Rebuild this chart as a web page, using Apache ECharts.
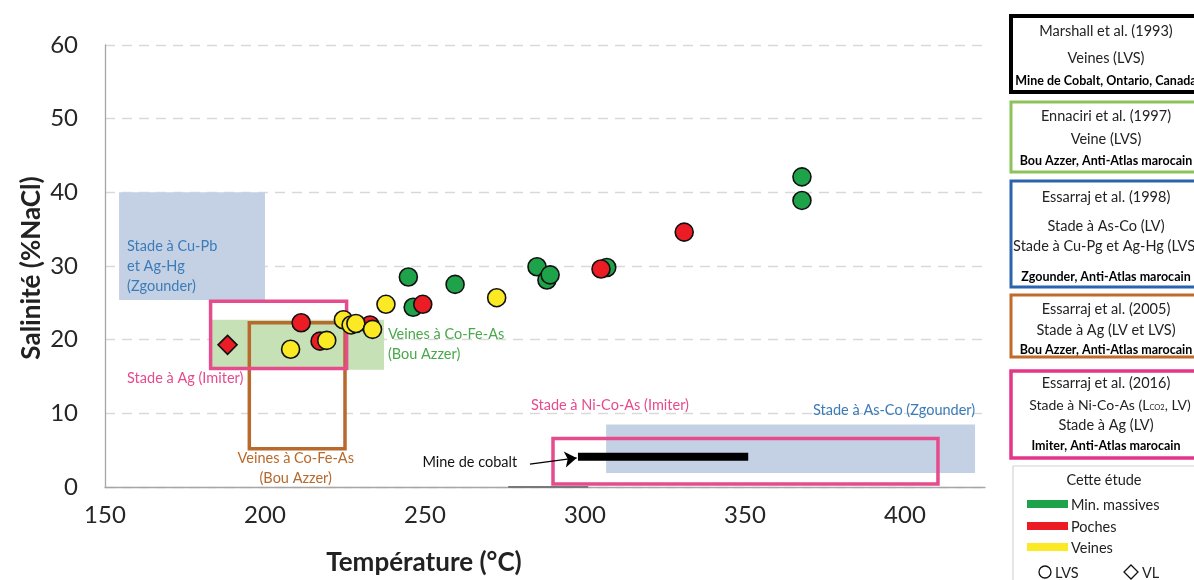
<!DOCTYPE html>
<html><head><meta charset="utf-8">
<script src="https://cdn.jsdelivr.net/npm/echarts@6/dist/echarts.min.js"></script>
<style>html,body{margin:0;padding:0;background:#fff}#c{width:1194px;height:580px}</style>
</head><body><div id="c"></div>
<script>
// ---- data (temperature °C, salinity %NaCl) ----
const massives = [[367.8,42.1],[367.8,38.9],[244.8,28.5],[246.3,24.4],[259.4,27.5],[285,29.9],[288.1,28.1],[289.1,28.8],[306.8,29.8]];
const poches = [[211.3,22.3],[217.2,19.8],[232.8,22.0],[249.3,24.8],[305,29.6],[331,34.6]];
const veines = [[208,18.7],[219.3,19.9],[224.5,22.7],[226.9,22.0],[228.4,22.2],[233.6,21.4],[237.8,24.8],[272.4,25.7]];
const pochesVL = [[188.3,19.3]];

// literature fields: temperature range, salinity range
const regionNames = ['Cu-Pb Ag-Hg Zgounder','Co-Fe-As Bou Azzer (fill)','Ag Imiter','Co-Fe-As Bou Azzer (box)','As-Co Zgounder','Ni-Co-As Imiter'];
const regionT = [[154.4,200],[183.4,237.2],[183,225.5],[195.1,225],[306.6,421.9],[290,410.3]];
const regionS = [[25.4,40],[15.9,22.7],[16.1,25.2],[5.2,22.3],[1.9,8.5],[0.4,6.6]];
const cobaltMineT = [297.8,351];
const cobaltMineS = 4.1;
const arrowFrom = [282.8,3.1];
const arrowTo = [297.4,3.95];
const axisDarkSegment = [276,301];

const annotTexts = ['Stade à Cu-Pb\net Ag-Hg\n(Zgounder)','Stade à Ag (Imiter)','Veines à Co-Fe-As\n(Bou Azzer)','Veines à Co-Fe-As\n(Bou Azzer)','Stade à Ni-Co-As (Imiter)','Stade à As-Co (Zgounder)','Mine de cobalt'];
const annotAt = [[156.9,30],[156.9,14.8],[238.4,19.3],[209.6,2.6],[307.8,11.1],[396.6,10.4],[264,3.3]];

const xMin = 150, xMax = 425, xStep = 50;
const yMin = 0, yMax = 60, yStep = 10;

// ---- styles ----
const FONT = 'Lato, "Open Sans", sans-serif';
const GREEN = '#1fa34a', RED = '#ec1c24', YELLOW = '#fbe924';
const PINK = '#e64b8d', BROWN = '#b8692c';
const regionStyle = [
  {fill:'#c4d1e4', stroke:null, lw:0},
  {fill:'#c6e1b6', stroke:null, lw:0},
  {fill:'none', stroke:PINK, lw:3.5},
  {fill:'none', stroke:BROWN, lw:3.5},
  {fill:'#c4d1e4', stroke:null, lw:0},
  {fill:'none', stroke:PINK, lw:3.5}
];
const regionOrder = [0,1,4,3,2,5];
const annotStyle = [
  {c:'#3b7bb8', a:'left'},{c:PINK, a:'left'},{c:'#4aa84a', a:'left'},{c:BROWN, a:'center'},
  {c:PINK, a:'center'},{c:'#3b7bb8', a:'center'},{c:'#111', a:'center'}
];

const chart = echarts.init(document.getElementById('c'), null, {renderer:'canvas'});

const regionData = regionOrder.map(i => ({value:[regionT[i][0],regionT[i][1],regionS[i][0],regionS[i][1]], name:regionNames[i], idx:i}));

function pt(color, symbol, size, data, name){
  return {type:'scatter', name, data, symbol, symbolSize:size, z:10,
    itemStyle:{color, borderColor:'#111', borderWidth:1.6, opacity:1}};
}

// legend graphics
const G = [];
const LX = 1011, LW = 200;
function box(y, h, color, lw){
  G.push({type:'rect', shape:{x:LX, y, width:LW, height:h}, style:{fill:'#fff', stroke:color, lineWidth:lw}, z:1});
}
function txt(x, y, t, opts){
  opts = opts || {};
  G.push({type:'text', x, y, style:{text:t, fill:opts.c || '#222', font:(opts.b?'bold ':'')+(opts.s||14.5)+'px '+FONT, align:opts.a||'center', verticalAlign:'middle'}, z:2});
}
const CX = 1106;
const BS = 12.5;
box(16, 76, '#000', 4);
txt(CX, 31, 'Marshall et al. (1993)');
txt(CX, 58, 'Veines (LVS)');
txt(CX, 81, 'Mine de Cobalt, Ontario, Canada', {b:true, s:BS, c:'#000'});
box(102, 70, '#8dc15a', 3);
txt(CX, 116, 'Ennaciri et al. (1997)');
txt(CX, 139, 'Veine (LVS)');
txt(CX, 161, 'Bou Azzer, Anti-Atlas marocain', {b:true, s:BS, c:'#000'});
box(181, 106, '#2b63ad', 3);
txt(CX, 197, 'Essarraj et al. (1998)');
txt(CX, 226, 'Stade à As-Co (LV)');
txt(CX, 246, 'Stade à Cu-Pg et Ag-Hg (LVS)');
txt(CX, 277, 'Zgounder, Anti-Atlas marocain', {b:true, s:BS, c:'#000'});
box(295, 62, '#c06a2c', 3);
txt(CX, 309, 'Essarraj et al. (2005)');
txt(CX, 330, 'Stade à Ag (LV et LVS)');
txt(CX, 350, 'Bou Azzer, Anti-Atlas marocain', {b:true, s:BS, c:'#000'});
box(371, 87, '#e3358a', 3.5);
txt(CX, 383, 'Essarraj et al. (2016)');
G.push({type:'text', x:CX+4, y:405, style:{
  text:'{n|Stade à Ni-Co-As (L}{sub|CO2}{n|, LV)}', align:'center', verticalAlign:'middle',
  rich:{n:{font:'14px '+FONT, fill:'#222'}, sub:{font:'7.5px '+FONT, fill:'#222', padding:[6,0,0,0]}}}, z:2});
txt(CX, 425, 'Stade à Ag (LV)');
txt(CX, 446, 'Imiter, Anti-Atlas marocain', {b:true, s:BS, c:'#000'});
G.push({type:'rect', shape:{x:1013, y:466, width:LW, height:130}, style:{fill:'#fff', stroke:'#d4d4d4', lineWidth:1.2}, z:1});
txt(1104, 480, 'Cette étude');
const legSeries = [['Min. massives', GREEN, 504],['Poches', RED, 526],['Veines', YELLOW, 547]];
legSeries.forEach(([t,c,y]) => {
  G.push({type:'rect', shape:{x:1027, y:y-4, width:41, height:8}, style:{fill:c}, z:2});
  txt(1071, y+1, t, {a:'left'});
});
G.push({type:'circle', shape:{cx:1045, cy:572, r:6}, style:{fill:'#fff', stroke:'#111', lineWidth:1.3}, z:2});
txt(1055, 573, 'LVS', {a:'left'});
G.push({type:'polygon', shape:{points:[[1131,565],[1138,572],[1131,579],[1124,572]]}, style:{fill:'#fff', stroke:'#111', lineWidth:1.3}, z:2});
txt(1142, 573, 'VL', {a:'left'});
// axis titles
G.push({type:'text', x:424, y:563, style:{text:'Température (°C)', font:'bold 26px '+FONT, fill:'#222', align:'center', verticalAlign:'middle'}, z:2});
G.push({type:'text', x:32, y:268, rotation:Math.PI/2, style:{text:'Salinité (%NaCl)', font:'bold 26px '+FONT, fill:'#222', align:'center', verticalAlign:'middle'}, z:2});

const option = {
  animation:false,
  backgroundColor:'#fff',
  grid:{left:105, right:209, top:45, bottom:93},
  xAxis:{type:'value', min:xMin, max:xMax, interval:xStep,
    axisLine:{show:true, lineStyle:{color:'#a6a6a6', width:1.3}}, axisTick:{show:false}, splitLine:{show:false},
    axisLabel:{color:'#262626', fontSize:24, fontFamily:FONT, margin:16, showMaxLabel:false,
      formatter: v => (v % 50 === 0 ? String(v) : '')}},
  yAxis:{type:'value', min:yMin, max:yMax, interval:yStep,
    axisLine:{show:true, lineStyle:{color:'#a6a6a6', width:1.3}}, axisTick:{show:false},
    splitLine:{show:true, lineStyle:{color:'#d9d9d9', width:1.3, type:[10,7]}},
    axisLabel:{color:'#262626', fontSize:24, fontFamily:FONT, margin:27}},
  graphic:G,
  series:[
    {type:'custom', name:'fields', data:regionData, encode:{x:[0,1], y:[2,3]}, z:2, silent:true,
      renderItem:(params, api) => {
        const i = regionData[params.dataIndex].idx;
        const st = regionStyle[i];
        const p1 = api.coord([api.value(0), api.value(3)]);
        const p2 = api.coord([api.value(1), api.value(2)]);
        return {type:'rect', shape:{x:p1[0], y:p1[1], width:p2[0]-p1[0], height:p2[1]-p1[1]},
          style:{fill:st.fill, stroke:st.stroke, lineWidth:st.lw}};
      }},
    {type:'line', name:'axisSeg', data:[[axisDarkSegment[0],0],[axisDarkSegment[1],0]], symbol:'none', z:3,
      lineStyle:{color:'#555', width:1.5}},
    {type:'custom', name:'annot', data:annotAt, encode:{x:0, y:1}, z:4, silent:true,
      renderItem:(params, api) => {
        const i = params.dataIndex;
        const p = api.coord([api.value(0), api.value(1)]);
        return {type:'text', x:p[0], y:p[1], style:{text:annotTexts[i], fill:annotStyle[i].c,
          font:'14.5px '+FONT, align:annotStyle[i].a, verticalAlign:'middle', lineHeight:20}};
      }},
    {type:'line', name:'Mine de cobalt', data:[[cobaltMineT[0],cobaltMineS],[cobaltMineT[1],cobaltMineS]], symbol:'none', z:5,
      lineStyle:{color:'#000', width:8, cap:'butt'}},
    {type:'lines', coordinateSystem:'cartesian2d', z:5, data:[{coords:[arrowFrom, arrowTo]}],
      symbol:['none','arrow'], symbolSize:[9,12], lineStyle:{color:'#000', width:1.4, opacity:1}},
    pt(GREEN, 'circle', 18, massives, 'Min. massives'),
    pt(RED, 'circle', 18, poches, 'Poches'),
    pt(RED, 'diamond', 19, pochesVL, 'Poches VL'),
    pt(YELLOW, 'circle', 18, veines, 'Veines')
  ]
};
chart.setOption(option);
</script></body></html>
